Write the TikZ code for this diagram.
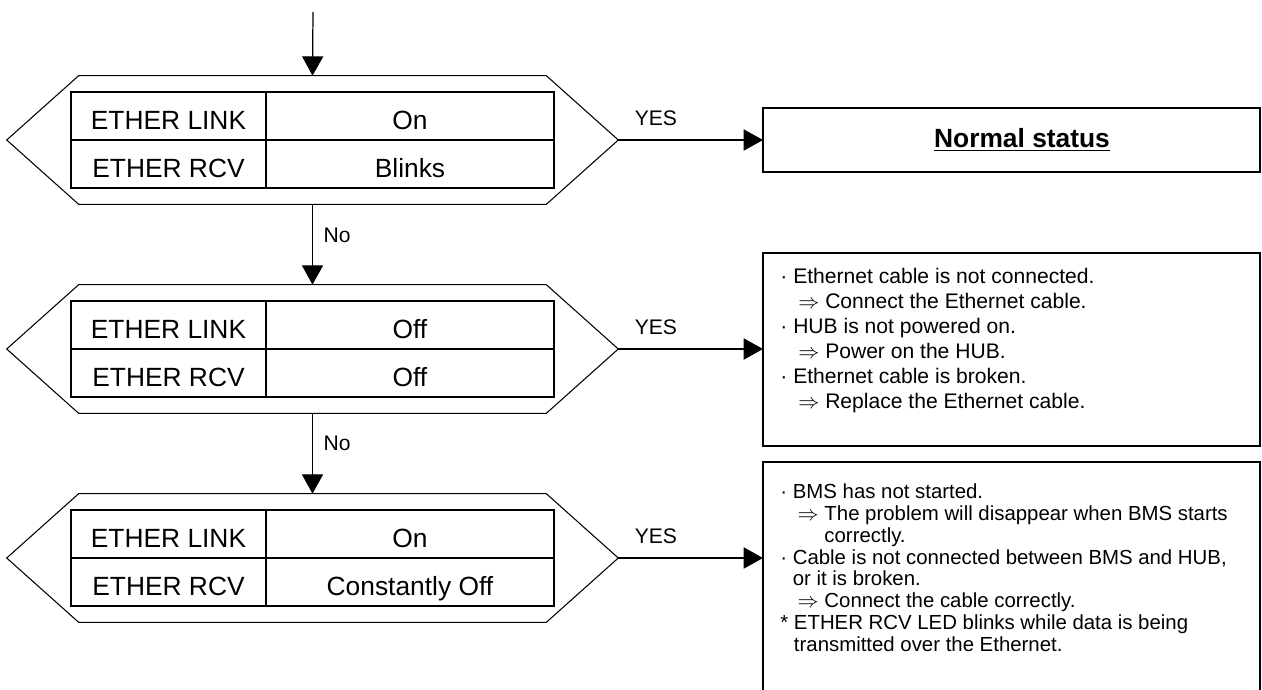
\documentclass[tikz,border=0pt]{standalone}
\usepackage{fontspec}
\setmainfont{Liberation Sans}
\usetikzlibrary{arrows.meta,positioning}

\begin{document}
\begin{tikzpicture}[
  x=0.02cm,
  y=-0.02cm,
  every node/.style={font=\fontsize{12}{14}\selectfont, black},
  flow/.style={line width=0.7pt, -{Triangle[length=11pt, width=12pt]}},
  hexcore/.style={minimum width=9.34cm, minimum height=2.56cm, inner sep=0pt},
  hexline/.style={line width=0.6pt, line join=miter},
  keycell/.style={draw, line width=0.8pt, minimum width=3.9cm,
                  minimum height=0.96cm, inner sep=0pt, outer sep=0pt,
                  text height=15pt, text depth=0pt,
                  font=\fontsize{15}{18}\selectfont},
  valcell/.style={keycell, minimum width=5.76cm},
  resbox/.style={minimum width=9.94cm, inner sep=0pt, outer sep=0pt},
  lbl/.style={inner sep=0pt}
]
  \useasboundingbox (0,0) rectangle (1262,690);

  % ---- the three checks ----
  \foreach \i/\y/\valA/\valB in {1/140/On/Blinks, 2/349/Off/Off,
                                 3/558/On/Constantly Off}{
    \node[hexcore] (dec\i) at (312.5,\y) {};
    \draw[hexline] (dec\i.north west) -- (dec\i.north east)
      -- ([xshift=1.44cm]dec\i.east) -- (dec\i.south east)
      -- (dec\i.south west) -- ([xshift=-1.44cm]dec\i.west) -- cycle;
    \coordinate (tip\i) at ([xshift=1.44cm]dec\i.east);
    \node[keycell, anchor=south east] (lk\i) at (266,\y) {ETHER LINK};
    \node[valcell, right=0pt of lk\i] (lv\i) {\valA};
    \node[keycell, below=0pt of lk\i] (rk\i) {ETHER RCV};
    \node[valcell, right=0pt of rk\i] (rv\i) {\valB};
  }

  % ---- result boxes ----
  \node[resbox, draw, line width=0.7pt, minimum height=1.28cm,
        font=\fontsize{15}{18}\selectfont\bfseries]
        (res1) at (1011.5,140) {\hspace*{12pt}\underline{Normal status}};
  \node[resbox, draw, line width=0.7pt, minimum height=3.86cm]
        (res2) at (1011.5,349.5) {};
  \node[resbox, minimum height=4.56cm] (res3) at (1011.5,576) {};
  \draw[line width=0.7pt] (res3.south west) -- (res3.north west)
    -- (res3.north east) -- (res3.south east);

  \node[lbl, align=left, anchor=north west,
        font=\fontsize{12}{14.2}\selectfont]
        (txt2) at ([shift={(17,15)}]res2.north west) {%
    · Ethernet cable is not connected.\\
    \hspace*{0.85em}$\Rightarrow$ Connect the Ethernet cable.\\
    · HUB is not powered on.\\
    \hspace*{0.85em}$\Rightarrow$ Power on the HUB.\\
    · Ethernet cable is broken.\\
    \hspace*{0.85em}$\Rightarrow$ Replace the Ethernet cable.};

  \node[lbl, align=left, anchor=north west,
        font=\fontsize{11.6}{12.5}\selectfont]
        (txt3) at ([shift={(17,21)}]res3.north west) {%
    · BMS has not started.\\
    \hspace*{0.85em}$\Rightarrow$ The problem will disappear when BMS starts\\
    \hspace*{0.85em}\hphantom{$\Rightarrow$} correctly.\\
    · Cable is not connected between BMS and HUB,\\
    \hphantom{·} or it is broken.\\
    \hspace*{0.85em}$\Rightarrow$ Connect the cable correctly.\\
    * ETHER RCV LED blinks while data is being\\
    \hphantom{*} transmitted over the Ethernet.};

  % ---- flow down ----
  \coordinate (start) at (313,12);
  \draw[flow] (start) -- (dec1.north);
  \draw[flow] (dec1.south) -- node[lbl, right=6pt, pos=.38] (no1) {No} (dec2.north);
  \draw[flow] (dec2.south) -- node[lbl, right=6pt, pos=.37] (no2) {No} (dec3.north);

  % ---- YES branches ----
  \draw[flow] (tip1) -- node[lbl, above=8pt, pos=.26] (yes1) {YES} (tip1 -| res1.west);
  \draw[flow] (tip2) -- node[lbl, above=8pt, pos=.26] (yes2) {YES} (tip2 -| res2.west);
  \draw[flow] (tip3) -- node[lbl, above=8pt, pos=.26] (yes3) {YES} (tip3 -| res3.west);
\end{tikzpicture}
\end{document}
